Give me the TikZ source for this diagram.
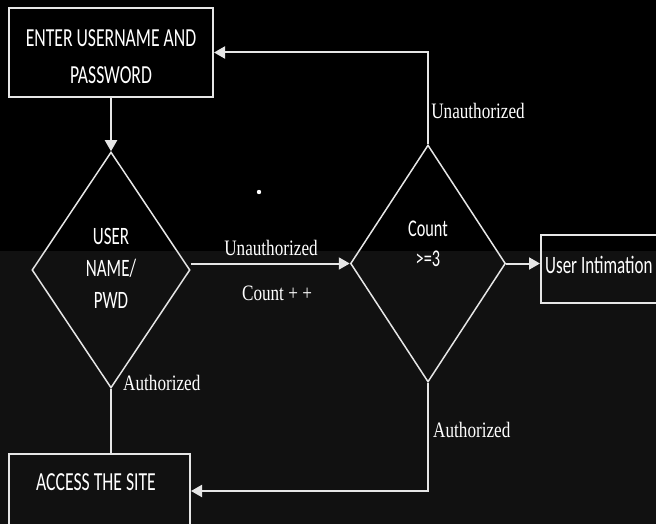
\documentclass[tikz,border=0pt]{standalone}
\usepackage{fontspec}
\usetikzlibrary{shapes.geometric,arrows.meta}
\newfontfamily\sansc[FakeStretch=0.68]{Carlito}
\newfontfamily\serifc[FakeStretch=0.78]{Liberation Serif}
\definecolor{ln}{HTML}{E6E6E6}
\definecolor{lowbg}{HTML}{111111}
\begin{document}
\begin{tikzpicture}[x=1pt,y=-1pt,
  box/.style={draw=ln, line width=2pt, rectangle, inner sep=0pt},
  dia/.style={draw=ln, line width=1.5pt, diamond, inner sep=0pt},
  stxt/.style={text=white, font=\sansc\fontsize{26}{37}\selectfont, align=center, inner sep=0pt},
  rtxt/.style={text=white, font=\serifc\fontsize{22}{26}\selectfont, inner sep=0pt},
  conn/.style={draw=ln, line width=2pt},
  arr/.style={conn, -{Triangle[length=11pt,width=12pt]}}]
\useasboundingbox (0,0) rectangle (656,524);
\clip (0,0) rectangle (656,524);
\fill[black] (0,0) rectangle (656,524);
\fill[lowbg] (0,251) rectangle (656,524);
% shapes
\node[box, minimum width=204pt, minimum height=89pt] (enter) at (111,52.5) {};
\node[stxt] (entert) at (111,57) {ENTER USERNAME AND\\PASSWORD};
\node[dia, minimum width=158pt, minimum height=236pt] (ldiam) at (111,270) {};
\node[stxt, font=\sansc\fontsize{25}{32}\selectfont] (ldt) at (111,268) {USER\\NAME/\\PWD};
\node[dia, minimum width=155pt, minimum height=237pt] (rdiam) at (428,263.5) {};
\node[stxt, font=\sansc\fontsize{24}{30}\selectfont] (rdt) at (428,244) {Count\\>=3};
\node[box, minimum width=181pt, minimum height=74pt] (access) at (99.5,491) {};
\node[stxt] (acct) at (96,482) {ACCESS THE SITE};
\node[box, minimum width=120pt, minimum height=68pt] (uint) at (601,269) {};
\node[stxt, font=\sansc\fontsize{25}{30}\selectfont, anchor=base west] (uintt) at (545,273) {User Intimation};
% connectors
\draw[arr] (enter.south) -- (ldiam.north);
\draw[arr] (ldiam.east |- rdiam.west) -- (rdiam.west);
\draw[arr] (rdiam.east) -- (uint.west |- rdiam.east);
\draw[arr] (rdiam.north) |- (enter.east);
\draw[conn] (ldiam.south) -- (ldiam.south |- access.north);
\draw[arr] (rdiam.south) |- (access.east);
% labels
\node[rtxt] (lu) at (271,248) {Unauthorized};
\node[rtxt] (lc) at (277,293) {Count + +};
\node[rtxt, anchor=west] (la1) at (123,383) {Authorized};
\node[rtxt] (lu2) at (478,111) {Unauthorized};
\node[rtxt, anchor=west] (la2) at (433,430) {Authorized};
\fill[white] (259,192) circle (2.2pt);
\end{tikzpicture}
\end{document}
